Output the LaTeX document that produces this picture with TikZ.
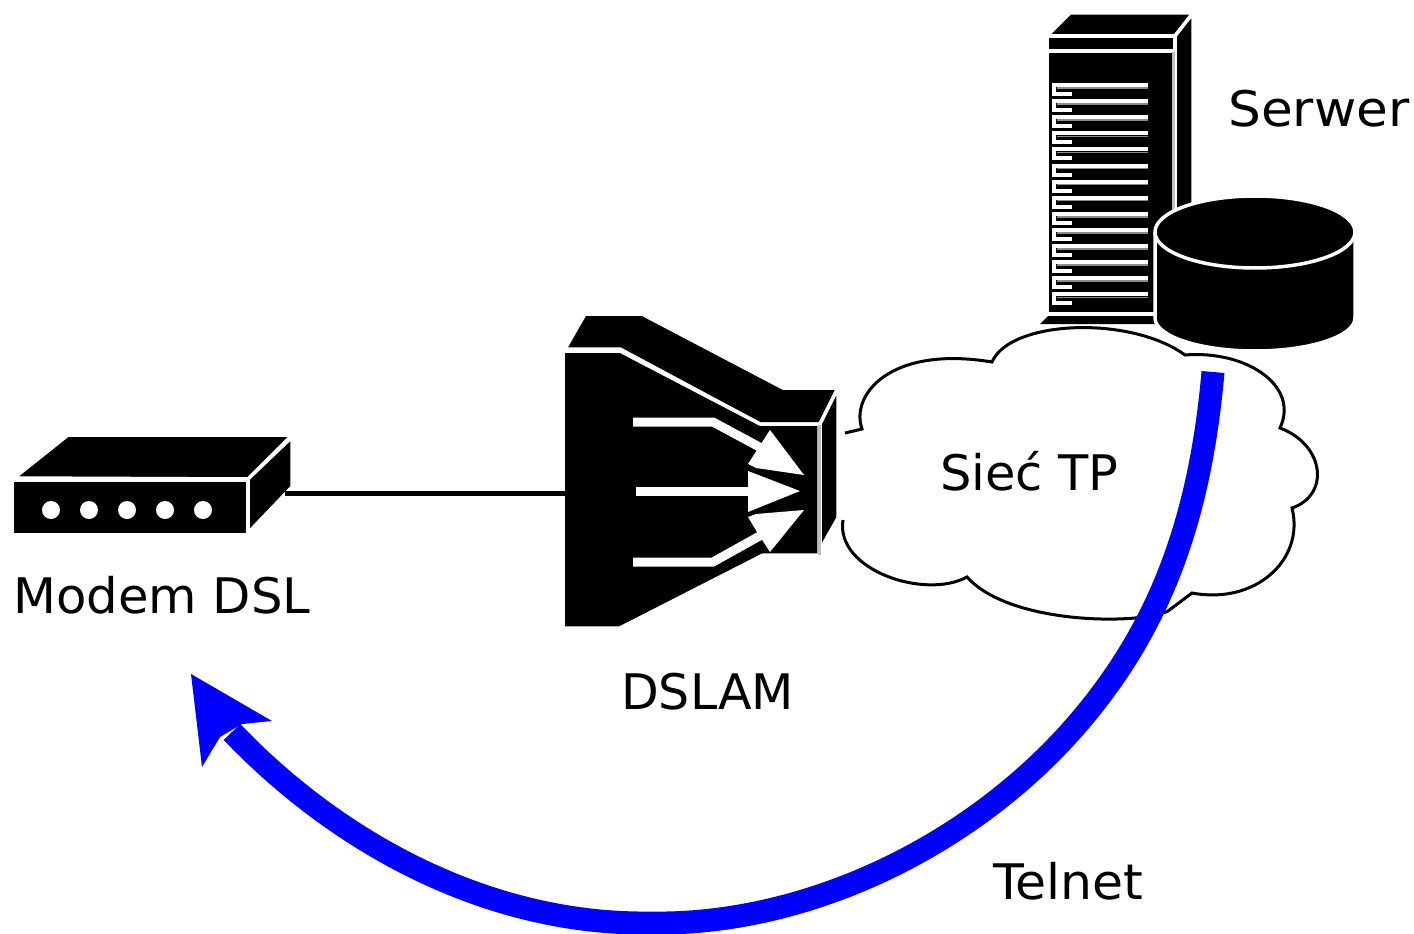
\documentclass[tikz,border=0pt]{standalone}
\usepackage{fontspec}
\setmainfont{DejaVu Sans}
\definecolor{telnetblue}{RGB}{0,0,255}
\tikzset{
  solid face/.style={fill=black,draw=white,line width=3.5pt,line join=round},
  grey edge/.style={draw=black!25,line width=3pt},
  white bar/.style={draw=white,line width=9pt},
  white head/.style={fill=white,draw=none},
  slat/.style={draw=white,line width=4pt},
  label text/.style={font=\fontsize{49}{51}\selectfont,inner sep=0pt,text=black},
  link/.style={draw=black,line width=5pt},
  cloud line/.style={draw=black,line width=3pt,line join=miter},
  telnet/.style={draw=telnetblue,line width=23pt}
}
\begin{document}
\begin{tikzpicture}[x=1pt,y=-1pt]
\useasboundingbox (0,0) rectangle (1414,934);
% tower
\draw[solid face] (1047,36) -- (1070,13) -- (1193,13) -- (1175,36) -- cycle;
\draw[solid face] (1175,36) -- (1193,13) -- (1193,215) -- (1175,230) -- cycle;
\fill[black] (1040,324) -- (1048,316) -- (1160,316) -- (1160,324) -- cycle;
\draw[solid face] (1047,36) rectangle (1175,314);
\draw[draw=white,line width=4pt] (1047,51) -- (1175,51);
\draw[grey edge] (1173,52) -- (1173,230);
\foreach \i in {0,...,13} {
  \pgfmathsetmacro{\yy}{85+16.1*\i}
  \draw[slat] (1148,\yy) -- (1054,\yy) -- (1054,\yy+9) -- (1072,\yy+9);
  \draw[draw=black!45,line width=1.5pt] (1057,\yy+3) -- (1148,\yy+3);
}
% cloud
\fill[white] (845,433) -- (862,429) .. controls (850,395) and (890,345) .. (992,362)
  .. controls (1010,320) and (1130,315) .. (1185,355)
  .. controls (1245,350) and (1300,385) .. (1280,428)
  .. controls (1325,445) and (1330,495) .. (1292,508)
  .. controls (1305,560) and (1255,605) .. (1192,593)
  -- (1168,611) .. controls (1140,625) and (1010,625) .. (967,577)
  .. controls (925,600) and (835,570) .. (843,520) -- cycle;
\draw[cloud line] (845,433) -- (862,429) .. controls (850,395) and (890,345) .. (992,362)
  .. controls (1010,320) and (1130,315) .. (1185,355)
  .. controls (1245,350) and (1300,385) .. (1280,428)
  .. controls (1325,445) and (1330,495) .. (1292,508)
  .. controls (1305,560) and (1255,605) .. (1192,593)
  -- (1168,611) .. controls (1140,625) and (1010,625) .. (967,577)
  .. controls (925,600) and (835,570) .. (843,520);
% disk
\draw[solid face] (1155,232) -- (1155,318) arc[start angle=180,end angle=0,x radius=100,y radius=33] -- (1355,232) -- cycle;
\draw[solid face] (1255,232) ellipse[x radius=100,y radius=36];
% DSLAM
\draw[solid face] (565,349) -- (585,314) -- (642,314) -- (783,388) -- (838,388) -- (820,424) -- (760,424) -- (620,349) -- cycle;
\draw[solid face] (820,424) -- (838,388) -- (838,518) -- (820,550) -- cycle;
\draw[solid face] (563,351) -- (620,351) -- (760,424) -- (819,424) -- (819,555) -- (763,555) -- (620,628) -- (563,628) -- cycle;
\draw[grey edge] (819,425) -- (819,555);
\coordinate (dslamw) at (565,493);
% DSLAM arrows
\draw[white bar] (633,422) -- (713,422) -- (765,450);
\draw[white bar] (636,491) -- (755,491);
\draw[white bar] (633,562) -- (713,562) -- (765,533);
\fill[white head] (770,430) -- (804,475) -- (756,468) -- (748,464) -- (757,450) -- cycle;
\fill[white head] (748,471) -- (800,491) -- (748,512) -- cycle;
\fill[white head] (804,510) -- (770,552) -- (757,532) -- (748,517) -- (756,514) -- cycle;
% modem
\draw[solid face] (14,478) -- (68,435) -- (292,435) -- (248,479) -- cycle;
\draw[solid face] (248,479) -- (292,437) -- (292,487) -- (248,533) -- cycle;
\draw[solid face] (12,480) rectangle (248,535);
\foreach \xx in {51,89,127,165,203} \fill[white] (\xx,510) circle[radius=9];
\coordinate (modeme) at (285,493);
\draw[link] (modeme) -- (dslamw);
% telnet arrow
\coordinate (tstart) at (1213,372);
\coordinate (ttip) at (232,732);
\draw[telnet] (tstart) .. controls (1200,520) and (1160,620) .. (1093,705)
  .. controls (985,842) and (810,926) .. (650,923)
  .. controls (490,925) and (340,845) .. (ttip);
\fill[telnetblue] (191,674) -- (272,721) -- (242,724) -- (220,737) -- (202,767) -- cycle;
% labels
\node[label text,anchor=base west,xscale=1.055] (lserver) at (1228,126) {Serwer};
\node[label text,anchor=base west,xscale=1.01] (lcloud) at (940,490) {Sieć TP};
\node[label text,anchor=base west,xscale=1.015] (lmodem) at (13,613) {Modem DSL};
\node[label text,anchor=base west] (ldslam) at (621,709) {DSLAM};
\node[label text,anchor=base west,xscale=1.03] (ltelnet) at (993,899) {Telnet};
\end{tikzpicture}
\end{document}
